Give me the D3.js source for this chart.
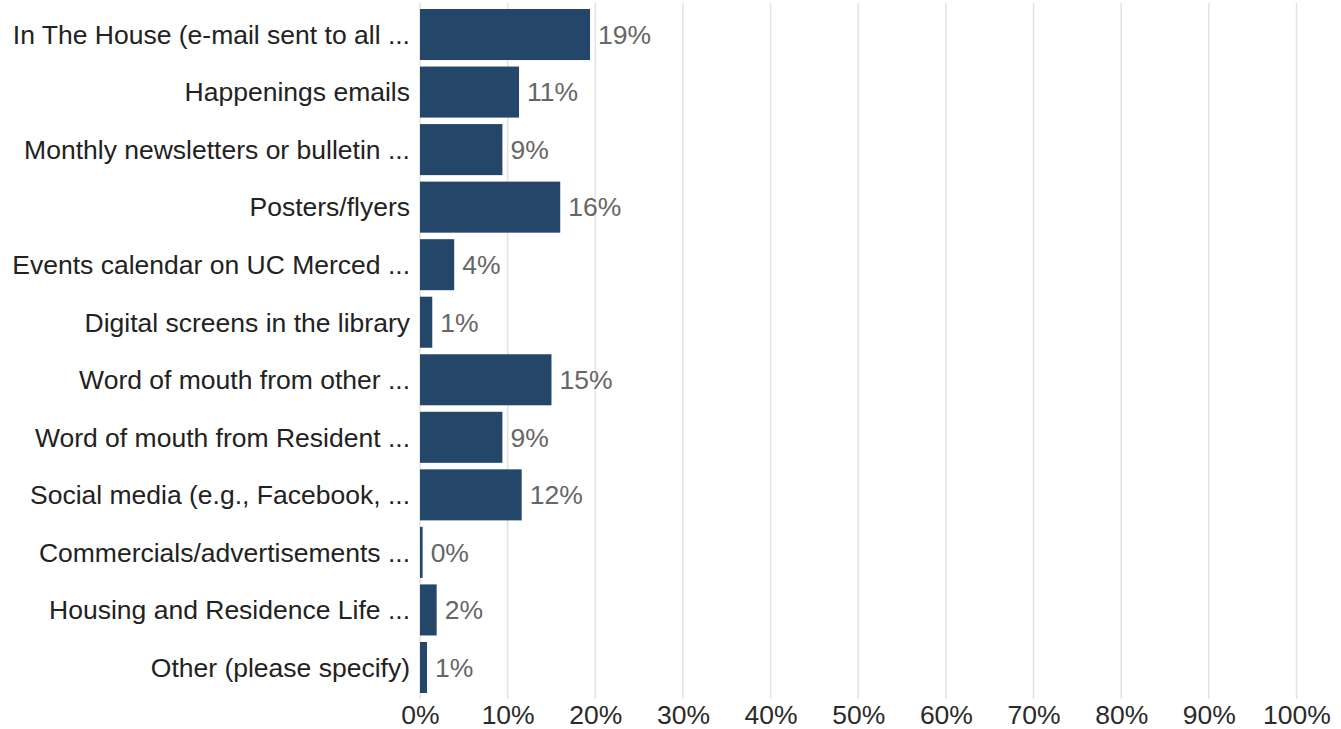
<!DOCTYPE html>
<html>
<head>
<meta charset="utf-8">
<script src="https://cdn.jsdelivr.net/npm/d3@7"></script>
<style>
  html, body { margin: 0; padding: 0; background: #fff; }
  svg { display: block; font-family: "Liberation Sans", Arial, Helvetica, sans-serif; }
</style>
</head>
<body>
<svg id="chart" width="1341" height="729"></svg>
<script>
// Survey answers: how respondents heard about events
const categories = [
  "In The House (e-mail sent to all ...",
  "Happenings emails",
  "Monthly newsletters or bulletin ...",
  "Posters/flyers",
  "Events calendar on UC Merced ...",
  "Digital screens in the library",
  "Word of mouth from other ...",
  "Word of mouth from Resident ...",
  "Social media (e.g., Facebook, ...",
  "Commercials/advertisements ...",
  "Housing and Residence Life ...",
  "Other (please specify)"
];
const shares = [0.194, 0.113, 0.094, 0.160, 0.039, 0.014, 0.150, 0.094, 0.116, 0.003, 0.019, 0.008];
const tickValues = [0, 0.1, 0.2, 0.3, 0.4, 0.5, 0.6, 0.7, 0.8, 0.9, 1.0];

const FONT_SIZE = 26.5;
const svg = d3.select("#chart");
const x = d3.scaleLinear().domain([0, 1]).range([420, 1296.5]);
const y = d3.scaleBand().domain(categories).range([9, 693]).paddingInner(0.113).paddingOuter(0);
const pct = d3.format(".0%");

// vertical gridlines
svg.append("g").selectAll("line").data(tickValues).join("line")
  .attr("x1", d => x(d)).attr("x2", d => x(d))
  .attr("y1", 3).attr("y2", 699)
  .attr("stroke", "#e2e2e2").attr("stroke-width", 1.5);

// bars
svg.append("g").selectAll("rect").data(shares).join("rect")
  .attr("x", x(0))
  .attr("y", (d, i) => y(categories[i]))
  .attr("width", d => x(d) - x(0))
  .attr("height", y.bandwidth())
  .attr("fill", "#244769");

// value labels
svg.append("g").selectAll("text").data(shares).join("text")
  .attr("x", d => x(d) + 8)
  .attr("y", (d, i) => y(categories[i]) + y.bandwidth() / 2)
  .attr("dy", "0.35em")
  .attr("font-size", FONT_SIZE)
  .attr("fill", "#666")
  .text(d => pct(d));

// category labels
svg.append("g").selectAll("text").data(categories).join("text")
  .attr("x", 410)
  .attr("y", d => y(d) + y.bandwidth() / 2)
  .attr("dy", "0.35em")
  .attr("text-anchor", "end")
  .attr("font-size", FONT_SIZE)
  .attr("fill", "#222")
  .text(d => d);

// x axis tick labels
const axis = svg.append("g").attr("transform", "translate(0,700)")
  .call(d3.axisBottom(x).tickValues(tickValues).tickFormat(pct).tickSize(0).tickPadding(0));
axis.select(".domain").remove();
axis.selectAll("text")
  .attr("y", 24).attr("dy", 0)
  .attr("font-size", FONT_SIZE)
  .attr("font-family", "Liberation Sans, Arial, sans-serif")
  .attr("fill", "#2a2a2a");
</script>
</body>
</html>
